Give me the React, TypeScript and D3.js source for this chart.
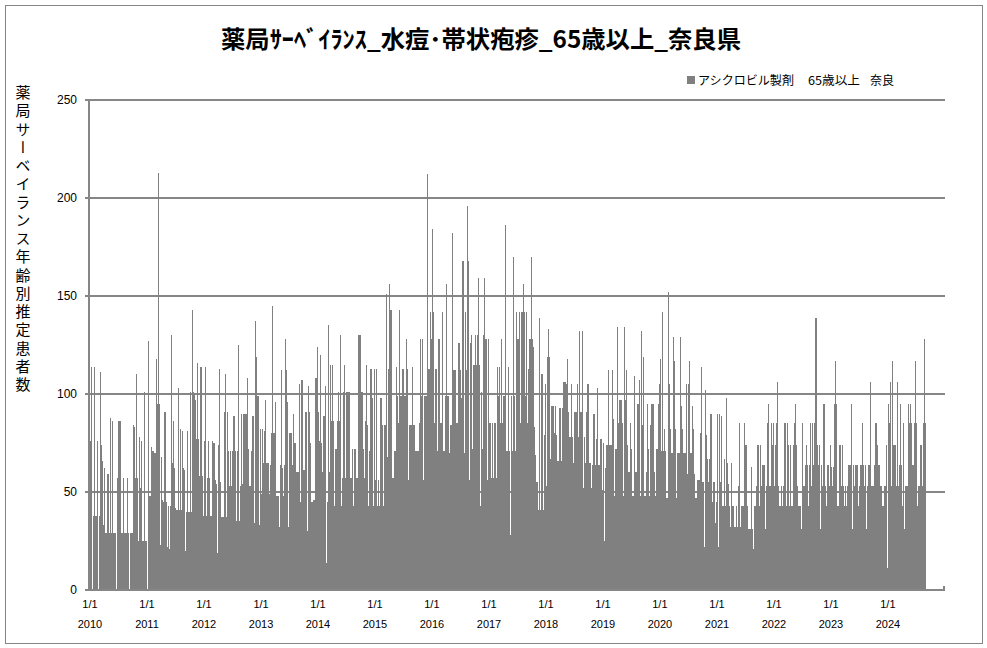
import React from "react";
import * as d3 from "d3";

// weekly estimated patient counts (one array per year)
const years = [2010, 2011, 2012, 2013, 2014, 2015, 2016, 2017, 2018, 2019, 2020, 2021, 2022, 2023, 2024];

const values2010 = [76, 114, 0, 38, 114, 38, 76, 0, 38, 111, 74, 66, 33, 62, 29, 29, 59, 29, 88, 29, 86, 29, 29, 29, 0, 57, 86, 86, 29, 29, 57, 29, 29, 29, 57, 29, 0, 29, 29, 84, 83, 57, 110, 57, 25, 78, 52, 76, 25, 101, 25, 25];
const values2011 = [0, 127, 48, 48, 73, 71, 70, 70, 118, 95, 213, 95, 23, 68, 46, 45, 91, 45, 22, 43, 21, 43, 130, 65, 86, 62, 42, 41, 103, 41, 82, 41, 81, 62, 61, 20, 40, 81, 40, 101, 40, 143, 101, 100, 97, 77, 116, 77, 58, 114, 58, 38];
const values2012 = [76, 114, 38, 57, 76, 57, 38, 76, 75, 75, 56, 54, 19, 74, 113, 55, 37, 37, 91, 110, 37, 91, 71, 53, 71, 53, 71, 89, 71, 35, 71, 125, 35, 53, 90, 54, 90, 90, 90, 108, 72, 53, 53, 71, 89, 89, 34, 137, 119, 99, 33, 82];
const values2013 = [49, 82, 65, 81, 97, 65, 65, 49, 64, 80, 145, 80, 80, 96, 48, 48, 32, 64, 112, 62, 48, 64, 128, 112, 96, 32, 80, 80, 64, 90, 75, 75, 60, 60, 60, 105, 45, 107, 61, 61, 91, 91, 30, 104, 91, 75, 45, 45, 46, 108, 108, 124];
const values2014 = [91, 76, 120, 75, 60, 89, 104, 14, 45, 135, 60, 115, 86, 115, 86, 43, 72, 86, 101, 86, 130, 43, 57, 101, 115, 57, 101, 101, 101, 57, 57, 72, 43, 72, 72, 57, 57, 130, 130, 101, 101, 72, 57, 86, 115, 84, 43, 71, 113, 98, 43, 113];
const values2015 = [56, 113, 43, 56, 43, 98, 84, 43, 84, 84, 151, 68, 113, 156, 143, 143, 57, 71, 71, 114, 99, 85, 143, 99, 99, 113, 113, 99, 128, 113, 56, 84, 84, 84, 114, 84, 84, 71, 71, 71, 85, 128, 99, 128, 56, 99, 99, 99, 212, 113, 142, 128];
const values2016 = [184, 142, 85, 113, 113, 71, 128, 85, 85, 142, 71, 71, 99, 156, 99, 99, 70, 84, 182, 112, 112, 112, 85, 85, 126, 126, 112, 98, 168, 70, 142, 112, 196, 168, 56, 126, 130, 72, 115, 130, 115, 130, 159, 115, 43, 101, 72, 130, 159, 128, 56, 128];
const values2017 = [85, 85, 57, 85, 57, 85, 57, 114, 99, 114, 85, 128, 85, 99, 99, 186, 71, 114, 71, 28, 99, 71, 170, 99, 71, 142, 128, 142, 85, 142, 142, 156, 142, 99, 142, 85, 113, 128, 170, 128, 124, 83, 69, 55, 55, 41, 139, 41, 110, 41, 79, 105];
const values2018 = [53, 119, 133, 119, 67, 94, 94, 80, 94, 79, 66, 66, 93, 93, 66, 93, 106, 106, 105, 118, 91, 78, 78, 105, 78, 65, 91, 91, 105, 78, 132, 91, 91, 132, 52, 78, 65, 91, 105, 65, 65, 52, 64, 90, 90, 64, 77, 103, 64, 77, 77, 51];
const values2019 = [75, 25, 62, 74, 74, 112, 74, 74, 112, 87, 48, 72, 72, 134, 85, 97, 97, 85, 48, 134, 97, 112, 74, 60, 60, 85, 72, 48, 109, 60, 60, 95, 95, 107, 48, 132, 84, 119, 48, 60, 95, 72, 48, 84, 95, 95, 95, 60, 48, 72, 95, 105];
const values2020 = [118, 71, 142, 71, 82, 71, 47, 152, 105, 82, 70, 70, 129, 117, 82, 47, 70, 70, 129, 94, 82, 70, 70, 70, 105, 59, 105, 117, 70, 94, 82, 59, 47, 47, 56, 56, 56, 80, 114, 55, 22, 102, 79, 67, 55, 67, 90, 90, 45, 55, 34, 45];
const values2021 = [90, 22, 90, 55, 89, 43, 67, 43, 98, 65, 54, 43, 32, 65, 43, 43, 32, 43, 32, 53, 85, 32, 43, 43, 43, 85, 74, 43, 31, 31, 31, 63, 31, 21, 43, 43, 53, 74, 43, 74, 53, 64, 64, 64, 31, 53, 85, 95, 53, 85, 74, 85];
const values2022 = [53, 74, 85, 106, 53, 43, 53, 43, 53, 85, 85, 43, 85, 74, 43, 74, 43, 74, 85, 95, 74, 53, 43, 43, 43, 31, 85, 53, 64, 74, 64, 43, 64, 85, 53, 85, 64, 85, 139, 74, 64, 74, 31, 64, 53, 95, 95, 53, 43, 64, 53, 74];
const values2023 = [63, 53, 63, 95, 117, 95, 43, 74, 74, 53, 74, 53, 43, 53, 43, 53, 64, 64, 95, 31, 64, 53, 64, 64, 64, 43, 53, 64, 85, 64, 53, 64, 31, 53, 64, 64, 106, 53, 53, 64, 85, 85, 74, 64, 64, 53, 53, 43, 43, 53, 74, 11];
const values2024 = [95, 85, 106, 53, 117, 74, 74, 53, 106, 53, 64, 95, 64, 43, 85, 31, 53, 53, 95, 85, 95, 85, 64, 64, 85, 117, 85, 43, 53, 74, 74, 53, 85, 128, 85];

const yearValues = [values2010, values2011, values2012, values2013, values2014, values2015, values2016, values2017, values2018, values2019, values2020, values2021, values2022, values2023, values2024];

const yTicks = [0, 50, 100, 150, 200, 250];

const title = "薬局ｻｰﾍﾞｲﾗﾝｽ_水痘･帯状疱疹_65歳以上_奈良県";
const yTitle = "薬局サーベイランス年齢別推定患者数";
const legendParts = ["アシクロビル製剤", "65歳以上", "奈良"];

const DAY = 24 * 3600 * 1000;
const grey = "#808080";
const lineGrey = "#868686";

export default function App() {
  const width = 987;
  const height = 648;
  const margin = { top: 100, right: 42, bottom: 58, left: 90 };

  const x = d3
    .scaleUtc()
    .domain([new Date(Date.UTC(2010, 0, 1)), new Date(Date.UTC(2025, 0, 1))])
    .range([margin.left, width - margin.right]);

  const y = d3
    .scaleLinear()
    .domain([0, 250])
    .range([height - margin.bottom, margin.top]);

  const data = years.flatMap((yr, i) =>
    yearValues[i].map((v, k) => ({ date: new Date(Date.UTC(yr, 0, 1 + 7 * k)), value: v }))
  );

  const yearTicks = years.map((yr) => new Date(Date.UTC(yr, 0, 1)));
  const x0 = margin.left;
  const x1 = width - margin.right;
  const yBase = y(0);

  return (
    <svg
      width={width}
      height={height}
      style={{ position: "absolute", left: 0, top: 0, background: "#fff" }}
    >
      <rect x={5.5} y={5.5} width={977} height={638} fill="#fff" stroke={lineGrey} strokeWidth={1} />

      <text
        x={481}
        y={48}
        textAnchor="middle"
        fontFamily="'Noto Sans CJK JP'"
        fontWeight="bold"
        fontSize={24}
        textLength={520}
        lengthAdjust="spacingAndGlyphs"
      >
        {title}
      </text>

      {/* legend */}
      <rect x={687} y={76} width={8} height={8} fill={grey} />
      <g fontFamily="'Noto Sans CJK JP'" fontSize={12} fill="#000">
        <text x={698} y={84.5} textLength={96} lengthAdjust="spacingAndGlyphs">{legendParts[0]}</text>
        <text x={808} y={84.5} textLength={52} lengthAdjust="spacingAndGlyphs">{legendParts[1]}</text>
        <text x={870} y={84.5} textLength={24} lengthAdjust="spacingAndGlyphs">{legendParts[2]}</text>
      </g>

      {/* y title, vertical */}
      <text
        x={23}
        y={85}
        fontFamily="'Noto Sans CJK JP'"
        fontSize={15}
        letterSpacing={3.25}
        style={{ writingMode: "vertical-rl" }}
      >
        {yTitle}
      </text>

      {/* gridlines */}
      {yTicks.filter((t) => t > 0).map((t) => (
        <line key={t} x1={x0} x2={x1} y1={y(t)} y2={y(t)} stroke={lineGrey} strokeWidth={2} />
      ))}

      {/* bars */}
      <g fill={grey} shapeRendering="crispEdges">
        {data.map((d, i) => {
          const bx = x(d.date);
          const bw = Math.max(1, x(new Date(+d.date + 7 * DAY)) - bx);
          return <rect key={i} x={bx} y={y(d.value)} width={bw} height={yBase - y(d.value)} />;
        })}
      </g>

      {/* axes */}
      <line x1={x0 - 1} x2={x0 - 1} y1={y(250) - 1} y2={yBase + 1} stroke={lineGrey} strokeWidth={2} />
      <line x1={x0 - 2} x2={x1} y1={yBase} y2={yBase} stroke={lineGrey} strokeWidth={2} />
      <line x1={x1 - 1} x2={x1 - 1} y1={yBase - 4} y2={yBase} stroke={lineGrey} strokeWidth={2} />
      {yTicks.map((t) => (
        <g key={t}>
          <line x1={x0 - 5} x2={x0 - 1} y1={y(t)} y2={y(t)} stroke={lineGrey} strokeWidth={2} />
          <text
            x={77}
            y={y(t)}
            dy="0.35em"
            textAnchor="end"
            fontFamily="'Liberation Sans', Arial, sans-serif"
            fontSize={12}
          >
            {t}
          </text>
        </g>
      ))}

      <g fontFamily="'Liberation Sans', Arial, sans-serif" fontSize={11} textAnchor="middle">
        {yearTicks.map((d, i) => (
          <g key={i}>
            <text x={x(d)} y={608}>1/1</text>
            <text x={x(d)} y={628}>{years[i]}</text>
          </g>
        ))}
      </g>
    </svg>
  );
}
